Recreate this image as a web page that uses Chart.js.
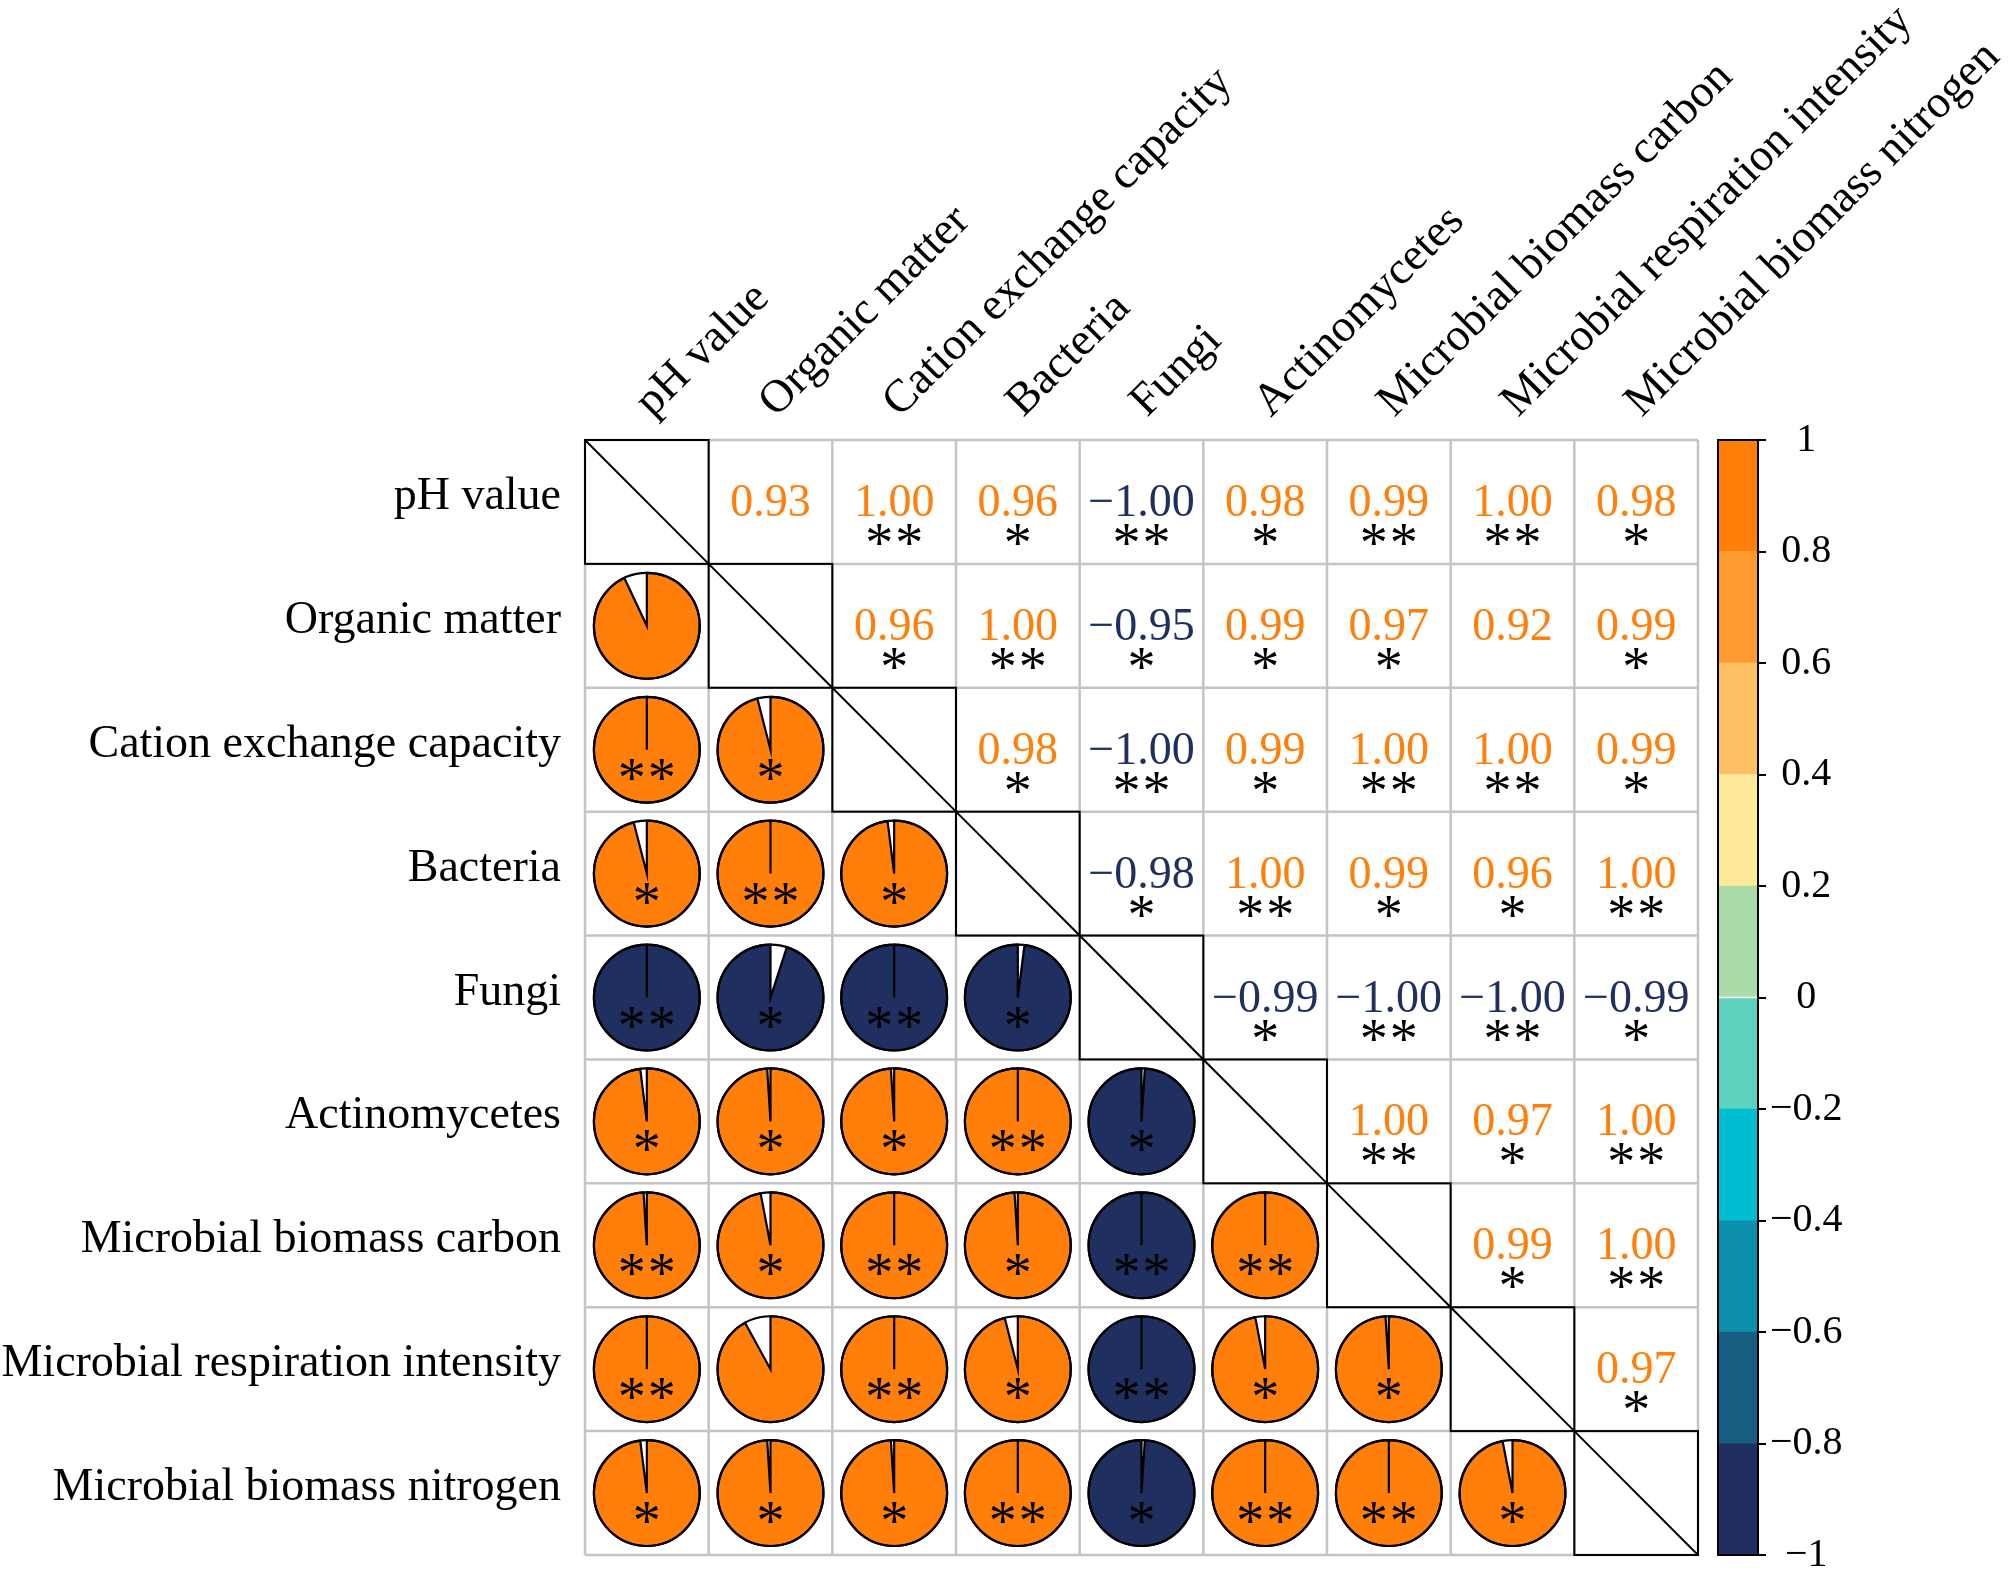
<!DOCTYPE html>
<html><head><meta charset="utf-8">
<script src="https://cdn.jsdelivr.net/npm/chart.js@4.4.1/dist/chart.umd.min.js"></script>
<style>
html,body{margin:0;padding:0;background:#fff;overflow:hidden}
#wrap{position:relative;width:2008px;height:1575px;background:#fff}
#main{position:absolute;left:0;top:0}
#cbar{position:absolute;left:1700px;top:0}
</style></head><body>
<div id="wrap"><canvas id="main" width="2008" height="1575"></canvas><canvas id="cbar" width="308" height="1575"></canvas></div>
<script>
// ---- data ----
const variables = ['pH value','Organic matter','Cation exchange capacity','Bacteria','Fungi','Actinomycetes','Microbial biomass carbon','Microbial respiration intensity','Microbial biomass nitrogen'];

const rPH       = [1, 0.93, 1.00, 0.96, -1.00, 0.98, 0.99, 1.00, 0.98];
const rOM       = [0.93, 1, 0.96, 1.00, -0.95, 0.99, 0.97, 0.92, 0.99];
const rCEC      = [1.00, 0.96, 1, 0.98, -1.00, 0.99, 1.00, 1.00, 0.99];
const rBacteria = [0.96, 1.00, 0.98, 1, -0.98, 1.00, 0.99, 0.96, 1.00];
const rFungi    = [-1.00, -0.95, -1.00, -0.98, 1, -0.99, -1.00, -1.00, -0.99];
const rActino   = [0.98, 0.99, 0.99, 1.00, -0.99, 1, 1.00, 0.97, 1.00];
const rMBC      = [0.99, 0.97, 1.00, 0.99, -1.00, 1.00, 1, 0.99, 1.00];
const rMRI      = [1.00, 0.92, 1.00, 0.96, -1.00, 0.97, 0.99, 1, 0.97];
const rMBN      = [0.98, 0.99, 0.99, 1.00, -0.99, 1.00, 1.00, 0.97, 1];

const sPH       = ['', '', '**', '*', '**', '*', '**', '**', '*'];
const sOM       = ['', '', '*', '**', '*', '*', '*', '', '*'];
const sCEC      = ['**', '*', '', '*', '**', '*', '**', '**', '*'];
const sBacteria = ['*', '**', '*', '', '*', '**', '*', '*', '**'];
const sFungi    = ['**', '*', '**', '*', '', '*', '**', '**', '*'];
const sActino   = ['*', '*', '*', '**', '*', '', '**', '*', '**'];
const sMBC      = ['**', '*', '**', '*', '**', '**', '', '*', '**'];
const sMRI      = ['**', '', '**', '*', '**', '*', '*', '', '*'];
const sMBN      = ['*', '*', '*', '**', '*', '**', '**', '*', ''];

const binEdges  = [-1, -0.8, -0.6, -0.4, -0.2, 0, 0.2, 0.4, 0.6, 0.8, 1];
const binColors = ['#1F2F5F', '#165E82', '#0B8FAA', '#00BED2', '#5DD0BE', '#A9DCA9', '#FFE99B', '#FFC063', '#FF9A30', '#FF7F0A'];
const colorbarTicks = [-1, -0.8, -0.6, -0.4, -0.2, 0, 0.2, 0.4, 0.6, 0.8, 1];

// ---- build ----
const R = [rPH, rOM, rCEC, rBacteria, rFungi, rActino, rMBC, rMRI, rMBN];
const S = [sPH, sOM, sCEC, sBacteria, sFungi, sActino, sMBC, sMRI, sMBN];
const upper = [], lower = [];
for (let i = 0; i < variables.length; i++) {
  for (let j = 0; j < variables.length; j++) {
    const p = {x: variables[j], y: variables[i], v: R[i][j], s: S[i][j]};
    if (j > i) upper.push(p); else if (j < i) lower.push(p);
  }
}
function binColor(v) {
  let k = Math.floor((v + 1) / 0.2 + 1e-9);
  return binColors[Math.max(0, Math.min(binColors.length - 1, k))];
}
function fmtSigned(v, d) {
  return (v < 0 ? '\u2212' : '') + (d == null ? String(Math.abs(v)) : Math.abs(v).toFixed(d));
}
const FONT = '"Liberation Serif", "Times New Roman", serif';

function drawStars(ctx, s, cx, baseY) {
  if (!s) return;
  ctx.font = '56px ' + FONT;
  ctx.fillStyle = '#000';
  ctx.textAlign = 'center';
  ctx.textBaseline = 'alphabetic';
  const n = s.length, gap = 30;
  for (let k = 0; k < n; k++) {
    ctx.fillText('*', cx + (k - (n - 1) / 2) * gap, baseY);
  }
}

const corrPlugin = {
  id: 'corr',
  beforeDatasetsDraw(chart) {
    const {ctx, chartArea: a, scales: {x, y}} = chart;
    const n = variables.length;
    ctx.save();
    ctx.strokeStyle = '#C4C4C4';
    ctx.lineWidth = 2.5;
    ctx.beginPath();
    for (let k = 0; k <= n; k++) {
      const px = x.getPixelForValue(k - 0.5);
      ctx.moveTo(px, a.top); ctx.lineTo(px, a.bottom);
      const py = y.getPixelForValue(k - 0.5);
      ctx.moveTo(a.left, py); ctx.lineTo(a.right, py);
    }
    ctx.stroke();
    ctx.strokeStyle = '#000';
    ctx.lineWidth = 2;
    for (let k = 0; k < n; k++) {
      const x0 = x.getPixelForValue(k - 0.5), x1 = x.getPixelForValue(k + 0.5);
      const y0 = y.getPixelForValue(k - 0.5), y1 = y.getPixelForValue(k + 0.5);
      ctx.strokeRect(x0, y0, x1 - x0, y1 - y0);
      ctx.beginPath(); ctx.moveTo(x0, y0); ctx.lineTo(x1, y1); ctx.stroke();
    }
    ctx.restore();
  },
  afterDatasetsDraw(chart) {
    const {ctx, scales: {x}} = chart;
    const cw = x.getPixelForValue(1) - x.getPixelForValue(0);
    ctx.save();
    // upper triangle: numbers + stars
    const mu = chart.getDatasetMeta(0);
    mu.data.forEach((el, k) => {
      const d = chart.data.datasets[0].data[k];
      ctx.font = '46px ' + FONT;
      ctx.fillStyle = binColor(d.v);
      ctx.textAlign = 'center';
      ctx.textBaseline = 'alphabetic';
      ctx.fillText(fmtSigned(d.v, 2), el.x, el.y + 14);
      drawStars(ctx, d.s, el.x, el.y + 60);
    });
    // lower triangle: pies
    const ml = chart.getDatasetMeta(1);
    const rad = cw * 0.428;
    ml.data.forEach((el, k) => {
      const d = chart.data.datasets[1].data[k];
      const cx = el.x, cy = el.y;
      ctx.beginPath();
      ctx.arc(cx, cy, rad, 0, Math.PI * 2);
      ctx.fillStyle = '#fff';
      ctx.fill();
      const start = -Math.PI / 2;
      const sweep = Math.PI * 2 * Math.abs(d.v);
      ctx.beginPath();
      ctx.moveTo(cx, cy);
      ctx.lineTo(cx, cy - rad);
      if (d.v >= 0) ctx.arc(cx, cy, rad, start, start + sweep, false);
      else ctx.arc(cx, cy, rad, start, start - sweep, true);
      ctx.closePath();
      ctx.fillStyle = binColor(d.v);
      ctx.fill();
      ctx.lineWidth = 2.2;
      ctx.strokeStyle = '#000';
      ctx.stroke();
      ctx.beginPath();
      ctx.arc(cx, cy, rad, 0, Math.PI * 2);
      ctx.stroke();
      drawStars(ctx, d.s, cx, cy + 47);
    });
    ctx.restore();
  }
};

new Chart(document.getElementById('main'), {
  type: 'scatter',
  data: {
    datasets: [
      {label: 'upper', data: upper, pointRadius: 0, pointHoverRadius: 0},
      {label: 'lower', data: lower, pointRadius: 0, pointHoverRadius: 0}
    ]
  },
  options: {
    responsive: false, animation: false, devicePixelRatio: 1, events: [],
    layout: {padding: {left: 0, top: 0, right: 310, bottom: 20}},
    plugins: {legend: {display: false}, tooltip: {enabled: false}},
    scales: {
      x: {
        type: 'category', labels: variables, position: 'top', offset: true,
        grid: {display: false, drawTicks: false}, border: {display: false},
        ticks: {autoSkip: false, minRotation: 45, maxRotation: 45, padding: 11, labelOffset: 36,
                color: '#000', font: {family: FONT, size: 46, lineHeight: 1.2}},
        afterFit: s => { s.height = 440; s.paddingLeft = 0; s.paddingRight = 0; }
      },
      y: {
        type: 'category', labels: variables, position: 'left', offset: true,
        grid: {display: false, drawTicks: false}, border: {display: false},
        ticks: {autoSkip: false, padding: 24, labelOffset: -5,
                color: '#000', font: {family: FONT, size: 46, lineHeight: 1.2}},
        afterFit: s => { s.width = 585; s.paddingTop = 0; s.paddingBottom = 0; }
      }
    }
  },
  plugins: [corrPlugin]
});

// ---- colour bar ----
const cbBorder = {
  id: 'cbBorder',
  afterDatasetsDraw(chart) {
    const {ctx, chartArea: a} = chart;
    ctx.save();
    ctx.strokeStyle = '#000'; ctx.lineWidth = 2;
    ctx.strokeRect(a.left, a.top, a.right - a.left, a.bottom - a.top);
    ctx.restore();
  }
};
new Chart(document.getElementById('cbar'), {
  type: 'bar',
  data: {
    labels: ['r'],
    datasets: binColors.map((c, i) => ({
      data: [[binEdges[i], binEdges[i + 1]]], backgroundColor: c, borderWidth: 0,
      barPercentage: 1, categoryPercentage: 1, grouped: false
    }))
  },
  options: {
    responsive: false, animation: false, devicePixelRatio: 1, events: [],
    layout: {padding: {left: 18, top: 440, right: 0, bottom: 20}},
    plugins: {legend: {display: false}, tooltip: {enabled: false}},
    scales: {
      x: {display: false},
      y: {
        position: 'right', min: -1, max: 1,
        afterBuildTicks: s => { s.ticks = colorbarTicks.map(v => ({value: v})); },
        grid: {display: true, drawOnChartArea: false, drawTicks: true, tickLength: 8, color: '#000', lineWidth: 2},
        border: {display: true, color: '#000', width: 2},
        ticks: {padding: 4, crossAlign: 'center', color: '#000', font: {family: FONT, size: 40},
                callback: v => fmtSigned(Math.round(v * 10) / 10)},
        afterFit: s => { s.width = 250; s.paddingTop = 0; s.paddingBottom = 0; }
      }
    }
  },
  plugins: [cbBorder]
});
</script>
</body></html>
